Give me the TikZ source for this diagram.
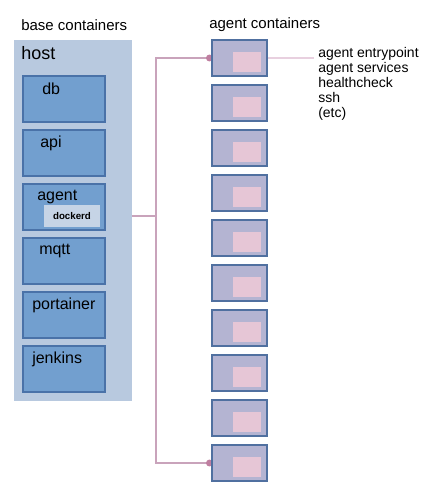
\documentclass[tikz,border=0pt]{standalone}
\usepackage{fontspec}
\setmainfont{Liberation Sans}
\usetikzlibrary{positioning,backgrounds}
\definecolor{panelfill}{HTML}{B8C9DF}
\definecolor{boxfill}{HTML}{729FCF}
\definecolor{boxline}{HTML}{4A72A8}
\definecolor{dockfill}{HTML}{C6D4E6}
\definecolor{agfill}{HTML}{B4B4D2}
\definecolor{agline}{HTML}{5070A0}
\definecolor{pinkfill}{HTML}{E6C6D6}
\definecolor{busline}{HTML}{C9A3BB}
\definecolor{busdot}{HTML}{BF7FA0}
\definecolor{infoline}{HTML}{E8D0DF}
\tikzset{
	hostpanel/.style={fill=panelfill,minimum width=88.5pt,minimum height=270.75pt,inner sep=0pt},
	basebox/.style={draw=boxline,fill=boxfill,line width=0.8pt,minimum width=61.5pt,minimum height=34.5pt,inner sep=0pt},
	boxlabel/.style={anchor=west,inner sep=0pt,font=\fontsize{12}{14}\selectfont},
	dockbox/.style={fill=dockfill,minimum width=42pt,minimum height=16.5pt,inner sep=0pt,font=\bfseries\fontsize{7.3}{8}\selectfont},
	agentbox/.style={draw=agline,fill=agfill,line width=0.8pt,minimum width=41.25pt,minimum height=27pt,inner sep=0pt},
	pinkbox/.style={fill=pinkfill,minimum width=21pt,minimum height=15pt,inner sep=0pt},
	title/.style={anchor=west,inner sep=0pt,font=\fontsize{11.25}{13.5}\selectfont},
	bus/.style={draw=busline,line width=0.9pt}
}
\begin{document}
\begin{tikzpicture}[x=0.75pt,y=-0.75pt]
	\useasboundingbox (0,0) rectangle (432,495);
	%Basis-Container
	\node[title] (basetitle) at (21,25) {base containers};
	\node[hostpanel] (host) at (73,220.5) {};
	\node[anchor=west,inner sep=0pt,font=\fontsize{13.5}{16}\selectfont] (hostlabel) at (21,53) {host};
	\foreach \name/\lx [count=\k from 0] in {db/42,api/40,agent/37,mqtt/39,portainer/32,jenkins/32}
	{
		\node[basebox] (\name) at (64,99+54*\k) {};
		\node[boxlabel] (\name label) at (\lx,89+54*\k) {\name};
	}
	\node[dockbox] (dockerd) at (72,216) {dockerd};
	%Agent-Container
	\node[title] (agenttitle) at (209,25) {agent containers};
	\foreach \i in {0,...,9}
	{
		\node[agentbox] (ag\i) at (239.5,58+45*\i) {};
		\node[pinkbox] (ag\i in) at (247,62+45*\i) {};
	}
	\node[anchor=west,inner sep=3pt,align=left,font=\fontsize{10.5}{11.3}\selectfont] (info) at (314,84)
		{agent entrypoint\\agent services\\healthcheck\\ssh\\(etc)};
	%Verbindungen
	\coordinate (bus) at (156,0);
	\begin{pgfonlayer}{background}
		\draw[bus] (dockerd.east) -- (dockerd.east -| bus);
		\draw[bus] (ag0.west) -- (ag0.west -| bus) -- (ag9.west -| bus) -- (ag9.west);
		\fill[busdot] ([xshift=-1.5pt]ag0.west) circle (2.6pt);
		\fill[busdot] ([xshift=-1.5pt]ag9.west) circle (2.6pt);
		\fill[busline] (dockerd.east) circle (2pt);
		\draw[draw=infoline,line width=0.9pt] (ag0.east) -- (ag0.east -| info.west);
	\end{pgfonlayer}
\end{tikzpicture}
\end{document}
